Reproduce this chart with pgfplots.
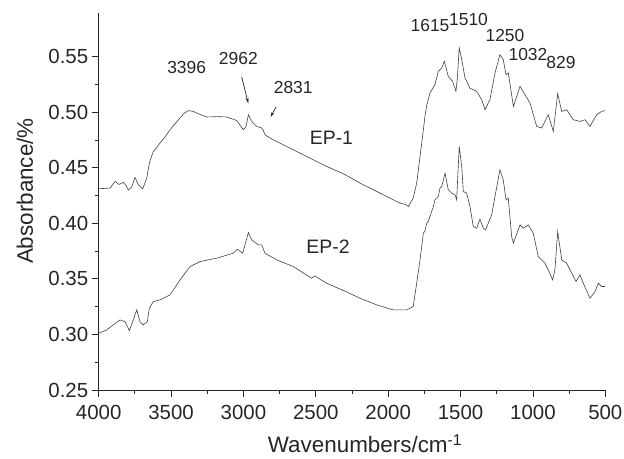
\documentclass[border=0pt]{standalone}
\usepackage{pgfplots}
\pgfplotsset{compat=1.18}
\usepackage{fontspec}
\setmainfont{Liberation Sans}
\usetikzlibrary{arrows.meta}
\begin{document}
\begin{tikzpicture}
\useasboundingbox (-98.7bp,-69bp) rectangle (525.3bp,390bp);
\begin{axis}[
  scale only axis, width=506.6bp, height=376.7bp,
  x dir=reverse, xmin=500, xmax=4000, ymin=0.25, ymax=0.589,
  axis x line*=bottom, axis y line*=left,
  axis line style={line width=0.8pt, black!85},
  xtick={500,1000,...,4000}, ytick={0.25,0.30,...,0.56},
  minor x tick num=1, minor y tick num=1,
  tick align=outside, major tick length=7bp, minor tick length=4bp,
  tick style={line width=0.8pt, black!85},
  ticklabel style={font=\fontsize{20.5}{24}\selectfont, text=black!85},
  /pgf/number format/assume math mode=true,
  xticklabel style={/pgf/number format/1000 sep={}, yshift=-5bp},
  yticklabel style={/pgf/number format/.cd, fixed, fixed zerofill, precision=2},
  xlabel={Wavenumbers/cm\textsuperscript{-1}},
  ylabel={Absorbance/\%},
  xlabel style={at={(axis description cs:0.5257,-0.167)}, anchor=base},
  ylabel style={at={(axis description cs:-0.1297,0.528)}, anchor=base},
  label style={font=\fontsize{22.5}{26}\selectfont, text=black!85},
  clip=false,
]
\addplot[black!75, line width=0.6pt] coordinates {
(4000,0.4311) (3922,0.4317) (3887,0.4377) (3860,0.4350) (3830,0.4368) (3810,0.4340) (3795,0.4300) (3772,0.4326)
(3749,0.4413) (3726,0.4347) (3696,0.4311) (3668,0.4407) (3650,0.4542) (3623,0.4647) (3600,0.4680) (3577,0.4722)
(3540,0.4780) (3507,0.4842) (3470,0.4900) (3438,0.4948) (3410,0.4990) (3381,0.5014) (3346,0.5007) (3300,0.4980)
(3254,0.4957) (3180,0.4960) (3116,0.4957) (3047,0.4926) (3001,0.4842) (2982,0.4872) (2966,0.4977) (2943,0.4917)
(2908,0.4872) (2874,0.4858) (2863,0.4836) (2851,0.4797) (2820,0.4770) (2794,0.4752) (2725,0.4707) (2656,0.4662)
(2609,0.4632) (2530,0.4580) (2471,0.4542) (2425,0.4512) (2300,0.4440) (2195,0.4362) (2079,0.4287) (1965,0.4212)
(1918,0.4182) (1880,0.4170) (1861,0.4151) (1827,0.4227) (1803,0.4362) (1780,0.4602) (1757,0.4842) (1746,0.4962)
(1734,0.5060) (1711,0.5173) (1677,0.5248) (1654,0.5368) (1630,0.5398) (1612,0.5458) (1585,0.5323) (1555,0.5278)
(1532,0.5188) (1523,0.5293) (1509,0.5578) (1492,0.5473) (1469,0.5308) (1435,0.5216) (1389,0.5188) (1354,0.5113)
(1331,0.5023) (1297,0.5113) (1262,0.5353) (1228,0.5518) (1205,0.5473) (1186,0.5338) (1170,0.5353) (1135,0.5052)
(1089,0.5232) (1055,0.5158) (1020,0.5083) (974,0.4872) (940,0.4858) (894,0.4977) (859,0.4827) (829,0.5167)
(801,0.5007) (767,0.5022) (721,0.4932) (675,0.4917) (640,0.4932) (606,0.4872) (560,0.4977) (525,0.5007) (502,0.5014)
};
\addplot[black!75, line width=0.6pt] coordinates {
(4000,0.3011) (3945,0.3040) (3899,0.3086) (3853,0.3131) (3818,0.3115) (3788,0.3034) (3761,0.3131) (3737,0.3221)
(3715,0.3115) (3692,0.3086) (3664,0.3115) (3650,0.3236) (3623,0.3296) (3577,0.3311) (3507,0.3356) (3438,0.3491)
(3369,0.3611) (3300,0.3656) (3185,0.3686) (3070,0.3731) (3042,0.3767) (3005,0.3731) (2966,0.3917) (2943,0.3851)
(2897,0.3806) (2874,0.3806) (2851,0.3731) (2770,0.3671) (2656,0.3611) (2529,0.3506) (2506,0.3527) (2471,0.3497)
(2425,0.3461) (2300,0.3390) (2195,0.3326) (2079,0.3266) (1965,0.3221) (1872,0.3221) (1827,0.3251) (1803,0.3461)
(1780,0.3671) (1757,0.3912) (1746,0.3930) (1734,0.4000) (1723,0.4016) (1688,0.4151) (1677,0.4212) (1654,0.4241)
(1642,0.4317) (1630,0.4332) (1607,0.4452) (1585,0.4302) (1561,0.4271) (1538,0.4257) (1527,0.4212) (1509,0.4692)
(1492,0.4512) (1481,0.4287) (1458,0.4271) (1435,0.4151) (1412,0.3971) (1389,0.3956) (1366,0.4037) (1343,0.3956)
(1327,0.3941) (1285,0.4077) (1262,0.4241) (1228,0.4482) (1205,0.4392) (1186,0.4212) (1170,0.4227) (1147,0.3881)
(1135,0.3822) (1089,0.3986) (1066,0.3956) (1032,0.3986) (998,0.3912) (963,0.3701) (917,0.3641) (894,0.3581)
(864,0.3491) (848,0.3581) (829,0.3925) (801,0.3671) (767,0.3641) (732,0.3551) (702,0.3476) (675,0.3536)
(652,0.3461) (606,0.3326) (571,0.3386) (548,0.3461) (525,0.3431) (502,0.3431)
};
\begin{scope}[font=\fontsize{17.5}{20}\selectfont, text=black!85]
\node at (axis cs:3392,0.5404) {3396};
\node at (axis cs:3035,0.5487) {2962};
\node at (axis cs:2656,0.5223) {2831};
\node at (axis cs:1711,0.5780) {1615};
\node at (axis cs:1445,0.5833) {1510};
\node at (axis cs:1193,0.5689) {1250};
\node at (axis cs:1034,0.5518) {1032};
\node at (axis cs:806,0.5443) {829};
\end{scope}
\node[font=\fontsize{19.5}{22}\selectfont, text=black!85] at (axis cs:2392,0.4767) {EP-1};
\node[font=\fontsize{19.5}{22}\selectfont, text=black!85] at (axis cs:2416,0.3791) {EP-2};
\draw[-{Stealth[length=6bp,width=3bp]}, line width=0.7pt, black!85] (axis cs:3012,0.5317) -- (axis cs:2966,0.5077);
\draw[-{Stealth[length=5bp,width=3bp]}, line width=0.7pt, black!85] (axis cs:2775,0.5047) -- (axis cs:2812,0.4957);
\end{axis}
\end{tikzpicture}
\end{document}
